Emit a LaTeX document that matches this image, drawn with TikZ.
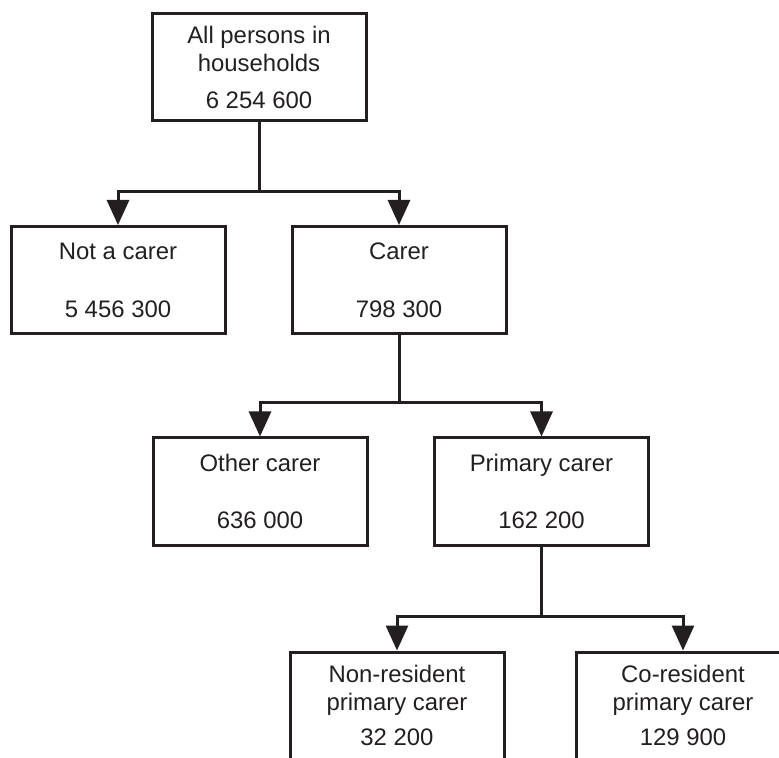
\documentclass[tikz,border=0pt]{standalone}
\usepackage{fontspec}
\setmainfont{Liberation Sans}
\usepackage{tikz}
\usetikzlibrary{arrows.meta,positioning,calc}
\definecolor{ink}{RGB}{35,31,32}

\begin{document}
\begin{tikzpicture}[font=\fontsize{13.6}{15.5}\selectfont,
    box/.style={draw=ink,line width=0.06cm,minimum width=4.28cm,minimum height=2.14cm,
                align=center,inner sep=0pt,text=ink},
    link/.style={ink,line width=0.06cm},
    arr/.style={link,-{Triangle[length=0.5cm,width=0.44cm]}}]
  \clip (0,0) rectangle (15.58,-15.16);
  \node[box] (all)    at (5.18,-1.35)   {All persons in\\households\\[5.5pt]6 254 600};
  \node[box] (notc)   at (2.36,-5.60)   {Not a carer\\[17.4pt]5 456 300};
  \node[box] (carer)  at (7.98,-5.60)   {Carer\\[17.4pt]798 300};
  \node[box] (other)  at (5.20,-9.83)   {Other carer\\[17.4pt]636 000};
  \node[box] (prim)   at (10.83,-9.83)  {Primary carer\\[17.4pt]162 200};
  \node[box] (nonres) at (7.94,-14.11)  {Non-resident\\primary carer\\[4.5pt]32 200};
  \node[box] (cores)  at (13.66,-14.11) {Co-resident\\primary carer\\[4.5pt]129 900};
  % splits
  \draw[link] (all.south) -- (all.south |- 0,-3.84) coordinate (j1);
  \draw[arr] (j1) -| (notc.north); \draw[arr] (j1) -| (carer.north);
  \draw[link] (carer.south) -- (carer.south |- 0,-8.06) coordinate (j2);
  \draw[arr] (j2) -| (other.north); \draw[arr] (j2) -| (prim.north);
  \draw[link] (prim.south) -- (prim.south |- 0,-12.32) coordinate (j3);
  \draw[arr] (j3) -| (nonres.north); \draw[arr] (j3) -| (cores.north);
\end{tikzpicture}
\end{document}
